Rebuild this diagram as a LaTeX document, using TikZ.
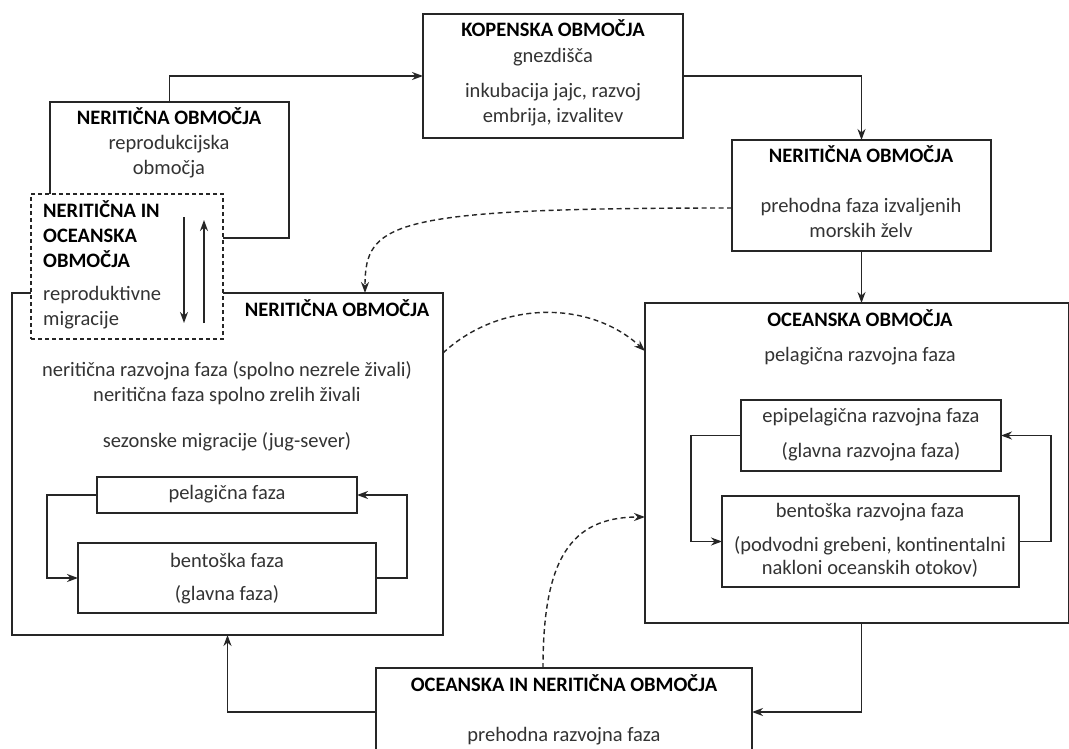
\documentclass[tikz,border=0pt]{standalone}
\usepackage{fontspec}
\setmainfont{Carlito}
\usetikzlibrary{arrows.meta}
\definecolor{txt}{HTML}{333333}
\definecolor{ln}{HTML}{262626}

\begin{document}
\begin{tikzpicture}[x=1pt,y=-1pt]
	    \tikzstyle{box}=[draw=ln, line width=1.4pt, inner sep=0pt, outer sep=0pt]
	    \tikzstyle{edge}=[draw=ln, line width=1.4pt, -{Stealth[length=11pt,width=8pt,inset=3.5pt]}]
	    \tikzstyle{dedge}=[edge, dash pattern=on 5pt off 3.5pt]
	    \tikzstyle{head}=[font=\fontsize{20.5}{24}\selectfont\bfseries, text=black, inner sep=0pt, text height=13pt, text depth=4pt]
	    \tikzstyle{lbl}=[font=\fontsize{20.5}{24}\selectfont, text=txt, inner sep=0pt, text height=13pt, text depth=4pt]
	    \useasboundingbox (0,0) rectangle (1069,749);
	    \fill[white] (0,0) rectangle (1069,749);
	    % boxes
	    \node[box, minimum width=260pt, minimum height=124pt] (kop) at (553,76) {};
	    \node[box, minimum width=259pt, minimum height=111pt] (ner2) at (861.5,195.5) {};
	    \node[box, minimum width=239pt, minimum height=136pt] (repro) at (169.5,170) {};
	    \node[box, minimum width=431pt, minimum height=342pt] (ner) at (227.5,464) {};
	    \node[box, dash pattern=on 4pt off 3pt, fill=white, minimum width=192pt, minimum height=145pt] (migr) at (127,266.5) {};
	    \node[box, minimum width=260pt, minimum height=36pt] (pelN) at (227,495) {};
	    \node[box, minimum width=298pt, minimum height=70pt] (benN) at (227,578) {};
	    \node[box, minimum width=424pt, minimum height=320pt] (oce) at (857,463) {};
	    \node[box, minimum width=260pt, minimum height=71pt] (epi) at (871,435.5) {};
	    \node[box, minimum width=297pt, minimum height=91pt] (benO) at (870.5,541.5) {};
	    \node[box, minimum width=376pt, minimum height=88pt] (tra) at (564,712) {};
	    % texts
	    \node[head] (kop1) at (553,32) {KOPENSKA OBMOČJA};
	    \node[lbl] (kop2) at (553,58) {gnezdišča};
	    \node[lbl] (kop3) at (553,93) {inkubacija jajc, razvoj};
	    \node[lbl] (kop4) at (553,118) {embrija, izvalitev};
	    \node[head] (ner21) at (861,158) {NERITIČNA OBMOČJA};
	    \node[lbl] (ner22) at (861,208) {prehodna faza izvaljenih};
	    \node[lbl] (ner23) at (861,233) {morskih želv};
	    \node[head] (repro1) at (169,120) {NERITIČNA OBMOČJA};
	    \node[lbl] (repro2) at (169,145) {reprodukcijska};
	    \node[lbl] (repro3) at (169,170) {območja};
	    \node[head, anchor=west] (migr1) at (43,213) {NERITIČNA IN};
	    \node[head, anchor=west] (migr2) at (43,238) {OCEANSKA};
	    \node[head, anchor=west] (migr3) at (43,263) {OBMOČJA};
	    \node[lbl, anchor=west] (migr4) at (43,296) {reproduktivne};
	    \node[lbl, anchor=west] (migr5) at (43,321) {migracije};
	    \node[head] (ner1) at (337,312) {NERITIČNA OBMOČJA};
	    \node[lbl] (ner2t) at (227,372) {neritična razvojna faza (spolno nezrele živali)};
	    \node[lbl] (ner3) at (227,397) {neritična faza spolno zrelih živali};
	    \node[lbl] (ner4) at (227,443) {sezonske migracije (jug-sever)};
	    \node[lbl] (pelN1) at (227,495) {pelagična faza};
	    \node[lbl] (benN1) at (227,563) {bentoška faza};
	    \node[lbl] (benN2) at (227,596) {(glavna faza)};
	    \node[head] (oce1) at (860,322) {OCEANSKA OBMOČJA};
	    \node[lbl] (oce2) at (860,357) {pelagična razvojna faza};
	    \node[lbl] (epi1) at (871,418) {epipelagična razvojna faza};
	    \node[lbl] (epi2) at (871,453) {(glavna razvojna faza)};
	    \node[lbl] (benO1) at (870,513) {bentoška razvojna faza};
	    \node[lbl] (benO2) at (870,547) {(podvodni grebeni, kontinentalni};
	    \node[lbl] (benO3) at (870,570) {nakloni oceanskih otokov)};
	    \node[head] (tra1) at (564,687) {OCEANSKA IN NERITIČNA OBMOČJA};
	    \node[lbl] (tra2) at (564,737) {prehodna razvojna faza};
	    % migration arrows
	    \coordinate (md1) at (184,217);
	    \coordinate (md2) at (184,323);
	    \coordinate (mu1) at (204,323);
	    \coordinate (mu2) at (204,220);
	    \draw[edge] (md1) -- (md2);
	    \draw[edge] (mu1) -- (mu2);
	    % connectors
	    \draw[edge] (repro.north) |- (kop.west);
	    \draw[edge] (kop.east) -| (ner2.north);
	    \draw[edge] (ner2.south) -- (ner2.south |- oce.north);
	    \draw[edge] (ner2.south |- oce.south) |- (tra.east);
	    \draw[edge] (tra.west) -| (ner.south);
	    \draw[edge] (pelN.west) -- ++(-50,0) |- (benN.west);
	    \draw[edge] (benN.east) -- ++(31,0) |- (pelN.east);
	    \draw[edge] (epi.west) -- ++(-50,0) |- (benO.west);
	    \draw[edge] (benO.east) -- ++(32,0) |- (epi.east);
	    \draw[dedge] ([yshift=-12.5pt]ner2.west) .. controls (390,208) and (365,222) .. ([xshift=137.5pt]ner.north);
	    \draw[dedge] ([yshift=111pt]ner.east) .. controls (500,300) and (590,300) .. ([yshift=112pt]oce.west);
	    \draw[dedge] ([xshift=-21pt]tra.north) .. controls (543,560) and (570,517) .. ([yshift=-54pt]oce.west);
	\end{tikzpicture}
\end{document}
